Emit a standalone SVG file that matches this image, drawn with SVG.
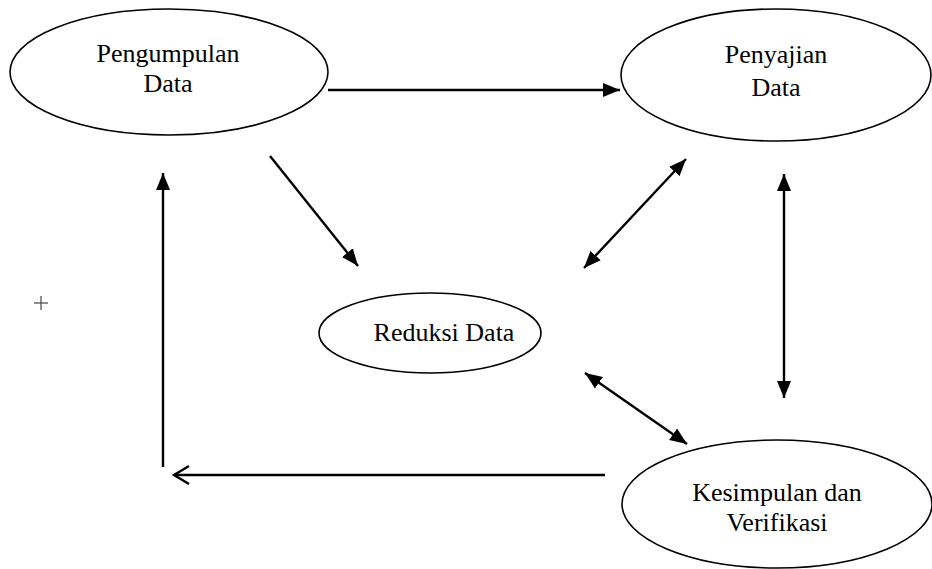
<svg xmlns="http://www.w3.org/2000/svg" width="932" height="569" viewBox="0 0 932 569">
<style>
.node ellipse{fill:#fff;stroke:#000;stroke-width:1.6}
.node text{font-family:"Liberation Serif","Times New Roman",serif;font-size:26px;fill:#000;text-anchor:middle}
.conn line,.conn path{stroke:#000;stroke-width:2.4;fill:none}
</style>
<defs>
<marker id="ah" markerUnits="userSpaceOnUse" markerWidth="18" markerHeight="16" refX="17" refY="8" orient="auto-start-reverse" viewBox="0 0 18 16">
<path d="M0,1 L17,8 L0,15 z" fill="#000"/>
</marker>
</defs>
<rect width="932" height="569" fill="#fff"/>
<g class="conn" id="connectors">
<line x1="328" y1="90" x2="620" y2="90" marker-end="url(#ah)"/>
<line x1="270" y1="156" x2="358" y2="266" marker-end="url(#ah)"/>
<line x1="584" y1="268" x2="686" y2="159" marker-start="url(#ah)" marker-end="url(#ah)"/>
<line x1="784" y1="174" x2="784" y2="398" marker-start="url(#ah)" marker-end="url(#ah)"/>
<line x1="585" y1="373" x2="687" y2="444" marker-start="url(#ah)" marker-end="url(#ah)"/>
<line x1="605" y1="475" x2="174" y2="475"/>
<path d="M189,466 L174,475 L189,484"/>
<line x1="163" y1="467" x2="163" y2="173" marker-end="url(#ah)"/>
</g>
<g id="plus">
<line x1="34" y1="303" x2="48" y2="303" stroke="#444" stroke-width="1.2"/>
<line x1="41" y1="296" x2="41" y2="310" stroke="#444" stroke-width="1.2"/>
</g>
<g class="node" id="pengumpulan">
<ellipse cx="169" cy="72" rx="159" ry="63"/>
<text x="168" y="62">Pengumpulan</text>
<text x="168" y="92">Data</text>
</g>
<g class="node" id="penyajian">
<ellipse cx="776" cy="75" rx="155" ry="66"/>
<text x="776" y="63">Penyajian</text>
<text x="776" y="96">Data</text>
</g>
<g class="node" id="reduksi">
<ellipse cx="430" cy="333" rx="111" ry="40"/>
<text x="444" y="341">Reduksi Data</text>
</g>
<g class="node" id="kesimpulan">
<ellipse cx="777" cy="504" rx="155" ry="64"/>
<text x="777" y="501">Kesimpulan dan</text>
<text x="777" y="531">Verifikasi</text>
</g>
</svg>
